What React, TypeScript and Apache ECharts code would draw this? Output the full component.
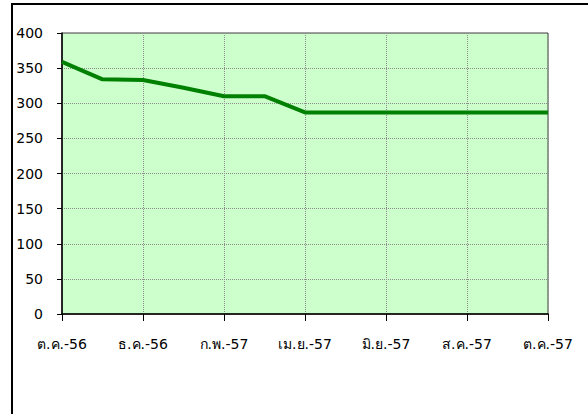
import React, { useEffect, useRef } from "react";
import * as echarts from "echarts";

const categories = [
  "ต.ค.-56", "พ.ย.-56", "ธ.ค.-56", "ม.ค.-57", "ก.พ.-57", "มี.ค.-57", "เม.ย.-57",
  "พ.ค.-57", "มิ.ย.-57", "ก.ค.-57", "ส.ค.-57", "ก.ย.-57", "ต.ค.-57",
];
const values = [359, 334, 333, 322, 310, 310, 287, 287, 287, 287, 287, 287, 287];
const yMin = 0;
const yMax = 400;
const yInterval = 50;

export default function App() {
  const ref = useRef<HTMLDivElement>(null);
  useEffect(() => {
    if (!ref.current) return;
    const chart = echarts.init(ref.current, undefined, { renderer: "svg" });
    const font = "'DejaVu Sans', Verdana, sans-serif";
    chart.setOption({
      animation: false,
      backgroundColor: "#ffffff",
      graphic: [
        {
          type: "rect",
          shape: { x: 12, y: 4, width: 700, height: 500 },
          style: { fill: "none", stroke: "#000000", lineWidth: 2 },
          silent: true,
          z: 100,
        },
      ],
      grid: {
        left: 62,
        right: 40,
        top: 33,
        bottom: 100,
        show: true,
        backgroundColor: "#CCFFCC",
        borderColor: "#404040",
        borderWidth: 1,
      },
      xAxis: {
        type: "category",
        data: categories,
        boundaryGap: false,
        axisLine: { show: true, lineStyle: { color: "#000000", width: 1.5 } },
        axisTick: { show: true, interval: 1, length: 7, lineStyle: { color: "#000000" } },
        axisLabel: {
          interval: 1,
          margin: 23,
          color: "#000000",
          fontSize: 14,
          fontFamily: font,
        },
        splitLine: {
          show: true,
          interval: 1,
          lineStyle: { color: "#8c8c8c", type: "dotted", width: 1 },
        },
      },
      yAxis: {
        type: "value",
        min: yMin,
        max: yMax,
        interval: yInterval,
        axisLine: { show: true, lineStyle: { color: "#000000", width: 1.5 } },
        axisTick: { show: true, length: 5, lineStyle: { color: "#000000" } },
        axisLabel: {
          margin: 19,
          color: "#000000",
          fontSize: 14,
          fontFamily: font,
        },
        splitLine: {
          show: true,
          lineStyle: { color: "#8c8c8c", type: "dotted", width: 1 },
        },
      },
      series: [
        {
          type: "line",
          data: values,
          symbol: "none",
          lineStyle: { color: "#008000", width: 4 },
          itemStyle: { color: "#008000" },
        },
      ],
    });
    return () => chart.dispose();
  }, []);
  return (
    <div
      ref={ref}
      style={{ position: "fixed", left: 0, top: 0, width: 588, height: 414 }}
    />
  );
}
